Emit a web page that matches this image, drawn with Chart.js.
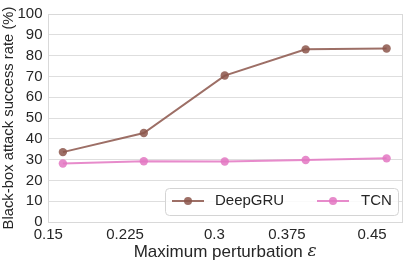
<!DOCTYPE html>
<html>
<head>
<meta charset="utf-8">
<script src="https://cdn.jsdelivr.net/npm/chart.js@4"></script>
<style>
html,body{margin:0;padding:0;background:#fff;}
#wrap{width:407px;height:261px;position:relative;}
</style>
</head>
<body>
<div id="wrap"><canvas id="c" width="407" height="261"></canvas></div>
<script>
const epsLabels = ['0.15', '0.225', '0.3', '0.375', '0.45'];
const positions = [1, 2, 3, 4, 5];
const deepGRU = [33.6, 42.8, 70.4, 83.0, 83.4];
const tcn = [28.1, 29.2, 29.1, 29.8, 30.6];
const seriesNames = ['DeepGRU', 'TCN'];
const yTicks = [0, 10, 20, 30, 40, 50, 60, 70, 80, 90, 100];
const xTitleParts = ['Maximum perturbation ', '\u03b5'];

const FONT = '"Liberation Sans", Arial, sans-serif';
const TXT = '#262626';
const brown = 'rgba(140,86,75,0.85)';
const pink = 'rgba(227,119,194,0.85)';
const colors = [brown, pink];

function pts(vals){ return vals.map((v,i)=>({x:positions[i], y:v})); }

const framePlugin = {
  id:'frame',
  beforeDatasetsDraw(chart){
    const {ctx, chartArea:a} = chart;
    ctx.save();
    ctx.strokeStyle = '#d9d9d9';
    ctx.lineWidth = 1;
    ctx.strokeRect(Math.round(a.left)+0.5, Math.round(a.top)+0.5, Math.round(a.right-a.left)-1, Math.round(a.bottom-a.top));
    ctx.restore();
  }
};

const xTitlePlugin = {
  id:'xTitle',
  afterDraw(chart){
    const {ctx, chartArea:a} = chart;
    ctx.save();
    ctx.fillStyle = TXT;
    ctx.textBaseline = 'middle';
    ctx.textAlign = 'left';
    const f1 = '17px ' + FONT;
    const f2 = 'italic 17px "DejaVu Serif", "Liberation Serif", serif';
    ctx.font = f1; const w1 = ctx.measureText(xTitleParts[0]).width;
    ctx.font = f2; const w2 = ctx.measureText(xTitleParts[1]).width;
    const cx = (a.left + a.right) / 2;
    let x = cx - (w1 + w2) / 2;
    const y = 252;
    ctx.font = f1; ctx.fillText(xTitleParts[0], x, y);
    ctx.font = f2; ctx.fillText(xTitleParts[1], x + w1, y);
    ctx.restore();
  }
};

const legendPlugin = {
  id:'customLegend',
  afterDraw(chart){
    const ctx = chart.ctx;
    const x0 = 165.5, y0 = 188.5, w = 233, h = 27, r = 4;
    ctx.save();
    ctx.fillStyle = 'rgba(255,255,255,0.85)';
    ctx.strokeStyle = '#d4d4d4';
    ctx.lineWidth = 1;
    ctx.beginPath();
    ctx.roundRect(x0, y0, w, h, r);
    ctx.fill();
    ctx.stroke();
    const cy = 201;
    const items = [{lx:172, tx:215}, {lx:317, tx:361}];
    items.forEach((it, i) => {
      ctx.strokeStyle = colors[i];
      ctx.fillStyle = colors[i];
      ctx.lineWidth = 2;
      ctx.beginPath();
      ctx.moveTo(it.lx, cy); ctx.lineTo(it.lx+32, cy);
      ctx.stroke();
      ctx.beginPath();
      ctx.arc(it.lx+16, cy, 4, 0, Math.PI*2);
      ctx.fill();
      ctx.fillStyle = TXT;
      ctx.font = '15px ' + FONT;
      ctx.textBaseline = 'middle';
      ctx.textAlign = 'left';
      ctx.fillText(seriesNames[i], it.tx, cy);
    });
    ctx.restore();
  }
};

new Chart(document.getElementById('c'), {
  type:'line',
  data:{
    datasets:[
      {label:seriesNames[0], data:pts(deepGRU), borderColor:brown, backgroundColor:brown, borderWidth:2, pointRadius:4.2, pointHoverRadius:4.2, pointBorderWidth:0, tension:0},
      {label:seriesNames[1], data:pts(tcn), borderColor:pink, backgroundColor:pink, borderWidth:2, pointRadius:4.2, pointHoverRadius:4.2, pointBorderWidth:0, tension:0}
    ]
  },
  options:{
    responsive:false,
    animation:false,
    events:[],
    layout:{padding:{left:0, right:2, top:9, bottom:0}},
    plugins:{legend:{display:false}, tooltip:{enabled:false}},
    scales:{
      x:{
        type:'linear', min:0.81, max:5.2,
        afterBuildTicks(s){ s.ticks = positions.map(v=>({value:v})); },
        afterFit(s){ s.height = 39; },
        grid:{display:false, drawTicks:false},
        border:{display:false},
        ticks:{
          align:'end', padding:4, maxRotation:0, autoSkip:false,
          color:TXT, font:{family:FONT, size:15},
          callback:(v)=>epsLabels[positions.indexOf(v)]
        },
        title:{display:false}
      },
      y:{
        min:0, max:100,
        afterBuildTicks(s){ s.ticks = yTicks.map(v=>({value:v})); },
        afterFit(s){ s.width = 47.5; },
        grid:{color:'#dedede', lineWidth:1, drawTicks:false},
        border:{display:false},
        ticks:{padding:5, autoSkip:false, color:TXT, font:{family:FONT, size:15}},
        title:{display:true, text:'Black-box attack success rate (%)', color:TXT, font:{family:FONT, size:14.8}, padding:{top:0.5, bottom:0}}
      }
    }
  },
  plugins:[framePlugin, xTitlePlugin, legendPlugin]
});
</script>
</body>
</html>
